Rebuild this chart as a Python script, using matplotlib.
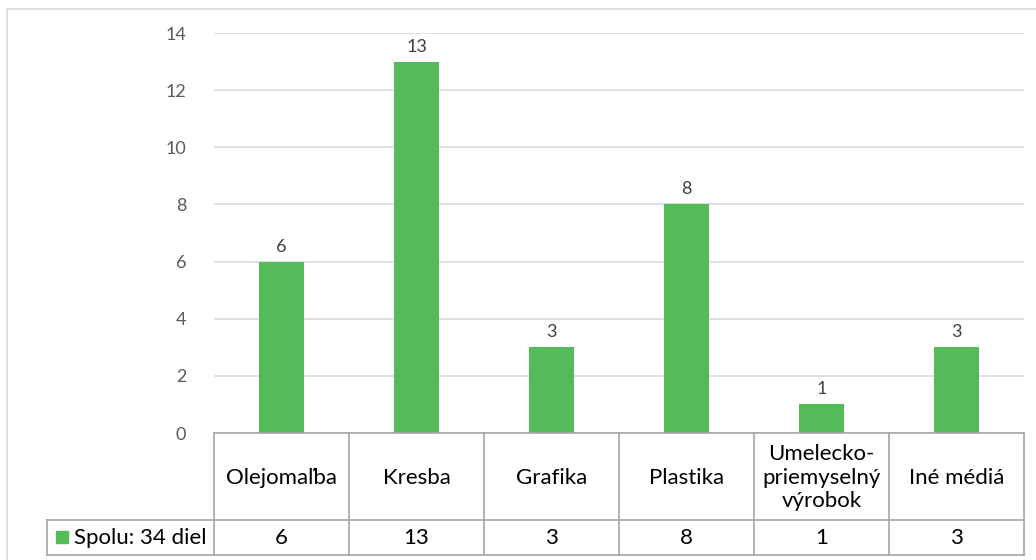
import matplotlib.pyplot as plt
from matplotlib.patches import Rectangle
from matplotlib.transforms import blended_transform_factory

categories = ["Olejomaľba", "Kresba", "Grafika", "Plastika",
              "Umelecko-\npriemyselný\nvýrobok", "Iné médiá"]
values = [6, 13, 3, 8, 1, 3]
series_name = "Spolu: 34 diel"
yticks = [0, 2, 4, 6, 8, 10, 12, 14]

GREEN = "#55BB5A"
GRID = "#D9D9D9"
TABLE = "#A6A6A6"
W, H = 1036, 560

plt.rcParams["font.family"] = ["Lato", "DejaVu Sans"]

fig = plt.figure(figsize=(W / 100, H / 100), dpi=100)

# chart outer border (light gray, runs off the right/bottom)
fig.patches.append(Rectangle((7 / W, -0.1), 1.2, (H - 9) / H + 0.1,
                             transform=fig.transFigure, fill=False,
                             edgecolor=GRID, lw=1.2))

x0, x1 = 214, 1024
y_zero, y_top = 433, 33
ax = fig.add_axes([x0 / W, (H - y_zero) / H, (x1 - x0) / W, (y_zero - y_top) / H])
n = len(categories)
xs = range(n)
ax.bar(xs, values, width=0.33, color=GREEN, zorder=3)
for x, v in zip(xs, values):
    ax.annotate(str(v), (x, v), xytext=(0, 5), textcoords="offset points",
                ha="center", va="bottom", fontsize=13, color="#404040")
ax.set_xlim(-0.5, n - 0.5)
ax.set_ylim(0, 14)
ax.set_yticks(yticks)
ax.set_xticks([])
ax.tick_params(axis="y", length=0, pad=20, labelsize=13, labelcolor="#595959")
ax.grid(axis="y", color=GRID, lw=1.2, zorder=0)
for s in ax.spines.values():
    s.set_visible(False)

# data table under the plot
tab_bottom = 555
tab = fig.add_axes([x0 / W, (H - tab_bottom) / H, (x1 - x0) / W, (tab_bottom - y_zero) / H])
tab.set_xlim(-0.5, n - 0.5)
tab.set_ylim(tab_bottom, y_zero)  # pixel rows, top down
tab.axis("off")
row_split = 520
legend_left = -0.5 + (47 - x0) / ((x1 - x0) / n)
kw = dict(color=TABLE, lw=1.2, clip_on=False)
tab.plot([-0.5, n - 0.5], [y_zero, y_zero], **kw)
tab.plot([legend_left, n - 0.5], [row_split, row_split], **kw)
tab.plot([legend_left, n - 0.5], [tab_bottom, tab_bottom], **kw)
tab.plot([legend_left, legend_left], [row_split, tab_bottom], **kw)
for i in range(n + 1):
    tab.plot([i - 0.5, i - 0.5], [y_zero, tab_bottom], **kw)

for x, c, v in zip(xs, categories, values):
    tab.text(x, (y_zero + row_split) / 2 + 1, c, ha="center", va="center",
             fontsize=16, linespacing=1.2, clip_on=False)
    tab.text(x, (row_split + tab_bottom) / 2 + 1, str(v), ha="center", va="center",
             fontsize=16, clip_on=False)

trans = blended_transform_factory(fig.transFigure, tab.transData)
fig.patches.append(Rectangle((56 / W, 531), 12 / W, 12, transform=trans,
                             color=GREEN))
tab.text(74 / W, (row_split + tab_bottom) / 2 + 1, series_name, transform=trans,
         ha="left", va="center", fontsize=16, clip_on=False)

fig.savefig("out.png", dpi=100)
